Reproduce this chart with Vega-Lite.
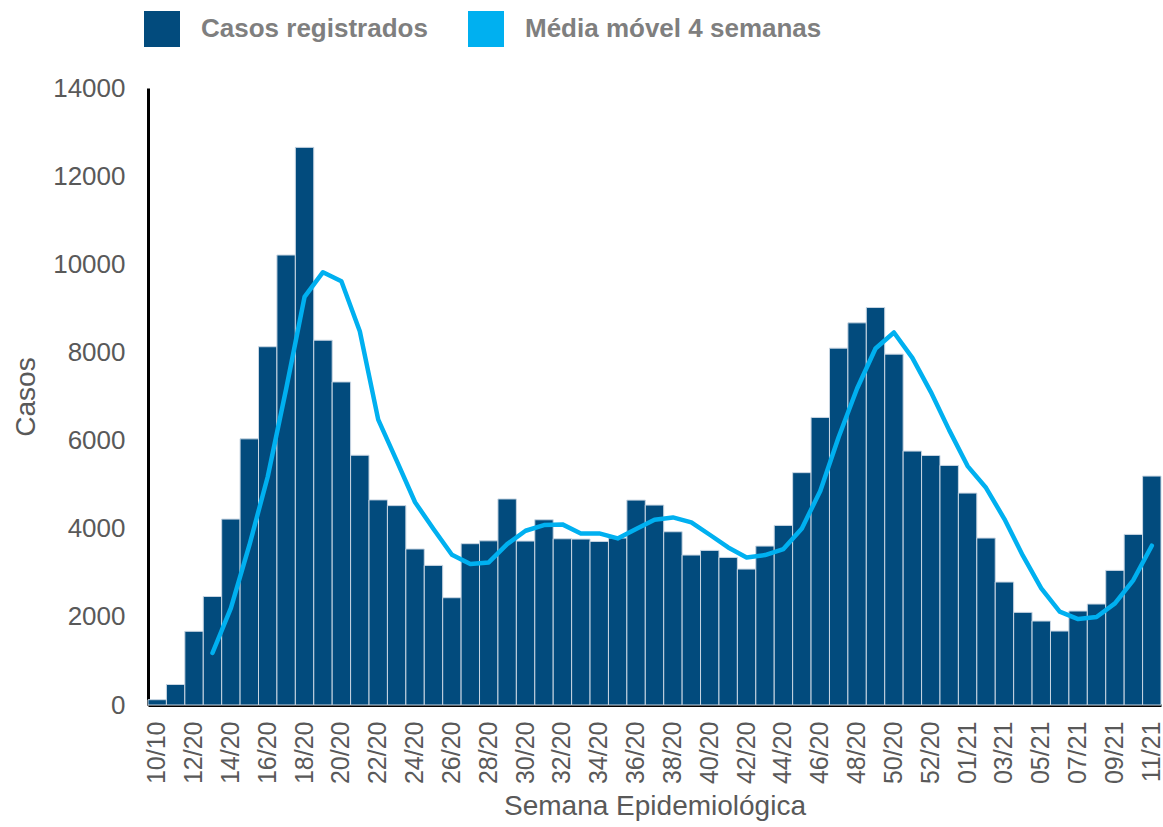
{
  "$schema": "https://vega.github.io/schema/vega-lite/v6.json",
  "width": 1013,
  "height": 617,
  "autosize": {"type": "none"},
  "padding": {"left": 148, "top": 88, "right": 2, "bottom": 122},
  "background": "white",
  "config": {
    "view": {"stroke": null},
    "font": "Liberation Sans"
  },
  "data": {
    "values": [
      {"semana": "10/10", "casos": 120, "media": null},
      {"semana": "11/20", "casos": 465, "media": null},
      {"semana": "12/20", "casos": 1672, "media": null},
      {"semana": "13/20", "casos": 2462, "media": 1180},
      {"semana": "14/20", "casos": 4218, "media": 2200},
      {"semana": "15/20", "casos": 6039, "media": 3620},
      {"semana": "16/20", "casos": 8129, "media": 5180},
      {"semana": "17/20", "casos": 10210, "media": 7170},
      {"semana": "18/20", "casos": 12653, "media": 9260},
      {"semana": "19/20", "casos": 8277, "media": 9820},
      {"semana": "20/20", "casos": 7330, "media": 9615},
      {"semana": "21/20", "casos": 5667, "media": 8482},
      {"semana": "22/20", "casos": 4654, "media": 6475},
      {"semana": "23/20", "casos": 4524, "media": 5546},
      {"semana": "24/20", "casos": 3540, "media": 4600},
      {"semana": "25/20", "casos": 3168, "media": 3995},
      {"semana": "26/20", "casos": 2434, "media": 3409},
      {"semana": "27/20", "casos": 3660, "media": 3200},
      {"semana": "28/20", "casos": 3725, "media": 3236},
      {"semana": "29/20", "casos": 4675, "media": 3651},
      {"semana": "30/20", "casos": 3720, "media": 3954},
      {"semana": "31/20", "casos": 4203, "media": 4082},
      {"semana": "32/20", "casos": 3772, "media": 4098},
      {"semana": "33/20", "casos": 3765, "media": 3893},
      {"semana": "34/20", "casos": 3712, "media": 3893},
      {"semana": "35/20", "casos": 3788, "media": 3780},
      {"semana": "36/20", "casos": 4649, "media": 3992},
      {"semana": "37/20", "casos": 4536, "media": 4203},
      {"semana": "38/20", "casos": 3931, "media": 4256},
      {"semana": "39/20", "casos": 3402, "media": 4143},
      {"semana": "40/20", "casos": 3508, "media": 3863},
      {"semana": "41/20", "casos": 3349, "media": 3576},
      {"semana": "42/20", "casos": 3084, "media": 3349},
      {"semana": "43/20", "casos": 3606, "media": 3402},
      {"semana": "44/20", "casos": 4075, "media": 3538},
      {"semana": "45/20", "casos": 5272, "media": 4007},
      {"semana": "46/20", "casos": 6525, "media": 4857},
      {"semana": "47/20", "casos": 8097, "media": 6080},
      {"semana": "48/20", "casos": 8671, "media": 7182},
      {"semana": "49/20", "casos": 9019, "media": 8089},
      {"semana": "50/20", "casos": 7961, "media": 8452},
      {"semana": "51/20", "casos": 5761, "media": 7878},
      {"semana": "52/20", "casos": 5662, "media": 7106},
      {"semana": "53/20", "casos": 5436, "media": 6237},
      {"semana": "01/21", "casos": 4808, "media": 5421},
      {"semana": "02/21", "casos": 3788, "media": 4929},
      {"semana": "03/21", "casos": 2790, "media": 4218},
      {"semana": "04/21", "casos": 2102, "media": 3387},
      {"semana": "05/21", "casos": 1905, "media": 2646},
      {"semana": "06/21", "casos": 1678, "media": 2117},
      {"semana": "07/21", "casos": 2132, "media": 1950},
      {"semana": "08/21", "casos": 2291, "media": 1996},
      {"semana": "09/21", "casos": 3054, "media": 2306},
      {"semana": "10/21", "casos": 3871, "media": 2835},
      {"semana": "11/21", "casos": 5194, "media": 3614}
    ]
  },
  "encoding": {
    "x": {
      "field": "semana",
      "type": "nominal",
      "sort": null,
      "scale": {"paddingInner": 0, "paddingOuter": 0},
      "axis": {
        "title": "Semana Epidemiológica",
        "titleFont": "Liberation Sans",
        "titleFontSize": 28,
        "titleFontWeight": "normal",
        "titleColor": "#595959",
        "titlePadding": 9,
        "labelAngle": -90,
        "labelFont": "Liberation Sans",
        "labelFontSize": 25,
        "labelColor": "#595959",
        "labelPadding": 16,
        "labelOverlap": false,
        "values": ["10/10","12/20","14/20","16/20","18/20","20/20","22/20","24/20","26/20","28/20","30/20","32/20","34/20","36/20","38/20","40/20","42/20","44/20","46/20","48/20","50/20","52/20","01/21","03/21","05/21","07/21","09/21","11/21"],
        "ticks": false,
        "domainColor": "#000000",
        "domainWidth": 3,
        "grid": false
      }
    }
  },
  "layer": [
    {
      "mark": {"type": "bar", "stroke": "#c9d6e3", "strokeWidth": 1},
      "encoding": {
        "y": {
          "field": "casos",
          "type": "quantitative",
          "scale": {"domain": [0, 14000], "nice": false},
          "axis": {
            "title": "Casos",
            "titleFont": "Liberation Sans",
            "titleFontSize": 28,
            "titleFontWeight": "normal",
            "titleColor": "#595959",
            "titlePadding": 12,
            "values": [0, 2000, 4000, 6000, 8000, 10000, 12000, 14000],
            "format": "d",
            "labelFont": "Liberation Sans",
            "labelFontSize": 26,
            "labelColor": "#595959",
            "labelPadding": 23,
            "ticks": false,
            "grid": false,
            "domainColor": "#000000",
            "domainWidth": 3
          }
        },
        "color": {
          "datum": "Casos registrados",
          "type": "nominal",
          "scale": {"domain": ["Casos registrados", "Média móvel 4 semanas"], "range": ["#024b7d", "#00b0f0"]},
          "legend": {
            "title": null,
            "orient": "none",
            "legendX": -4,
            "legendY": -77,
            "direction": "horizontal",
            "padding": 0,
            "symbolType": "square",
            "symbolSize": 1296,
            "symbolStrokeWidth": 0,
            "labelOffset": 21,
            "columnPadding": 40,
            "labelFont": "Liberation Sans",
            "labelFontSize": 26,
            "labelFontWeight": "bold",
            "labelColor": "#7f7f7f",
            "labelLimit": 0,
            "encode": {
              "symbols": {
                "update": {
                  "fill": {"signal": "datum.value === 'Casos registrados' ? '#124577' : '#17bff0'"},
                  "strokeWidth": {"value": 0}
                }
              }
            }
          }
        }
      }
    },
    {
      "mark": {"type": "line", "color": "#00b0f0", "strokeWidth": 4.5, "strokeCap": "round", "strokeJoin": "round"},
      "encoding": {
        "y": {"field": "media", "type": "quantitative"}
      }
    }
  ]
}
